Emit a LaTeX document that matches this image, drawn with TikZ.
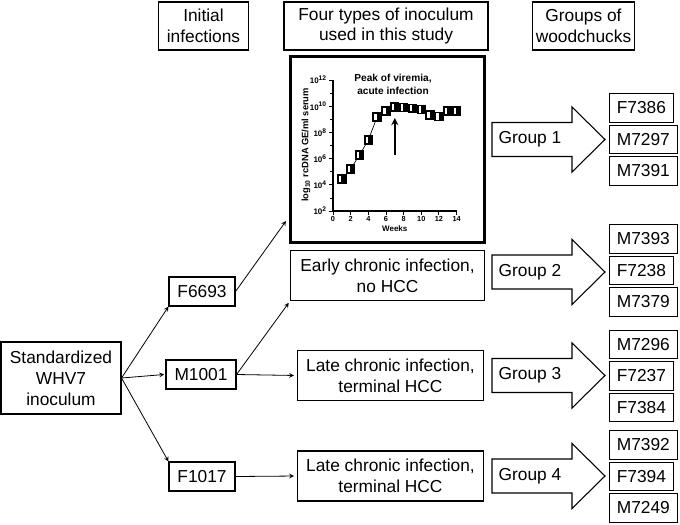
\documentclass[tikz,border=0pt]{standalone}
\usepackage{fontspec}
\setmainfont{Liberation Sans}

\tikzset{
  box/.style={draw, line width=0.8pt, align=center, inner sep=0pt,
    font=\fontsize{13}{15.6}\selectfont},
  hdr/.style={box, minimum height=36pt},
  chuck/.style={box, anchor=west, inner xsep=5.5pt, minimum height=21.4pt},
  grp/.style={draw, line width=0.8pt},
  ticklbl/.style={font=\bfseries\fontsize{5.5}{6}\selectfont, inner sep=1pt},
  datapt/.style={rectangle, fill=black, minimum size=7pt, inner sep=0pt,
    path picture={\fill[white] ([xshift=-2pt,yshift=-2.4pt]path picture bounding box.center) rectangle ++(1.7pt,4.8pt);}},
}

\begin{document}
\begin{tikzpicture}[>=stealth, x=0.75pt, y=-0.75pt]
    \useasboundingbox (0,0) rectangle (680,524);

    % column headers
    \node[hdr, minimum width=68pt] (hinit) at (203.5,26) {Initial\\infections};
    \node[hdr, minimum width=153pt] (htype) at (386,26) {Four types of inoculum\\used in this study};
    \node[hdr, minimum width=76pt] (hgrp) at (583.5,26) {Groups of\\woodchucks};

    % acute infection panel
    \node[draw, line width=2.2pt, minimum width=146pt, minimum height=139pt] (chart) at (387.5,149.5) {};
    \node[font=\bfseries\fontsize{7.6}{9.8}\selectfont, align=center] (peak) at (393,84.5) {Peak of viremia,\\acute infection};
    \node[rotate=90, font=\bfseries\fontsize{7}{8}\selectfont] (ylab) at (306,145) {log\textsubscript{10} rcDNA GE/ml serum};
    \begin{scope}[shift={(333,211)}, x=6.62pt, y=9.825pt]
        \draw[line width=0.9pt] (0,10) -- (0,0) -- (14,0);
        \foreach \k/\e in {0/2,2/4,4/6,6/8,8/10,10/12}
            \draw[line width=0.7pt] (0,\k) -- (-0.5,\k) node[left, ticklbl, font=\bfseries\fontsize{6}{7}\selectfont] {10\textsuperscript{\e}};
        \foreach \k in {1,3,...,9}
            \draw[line width=0.6pt] (0,\k) -- (-0.3,\k);
        \foreach \w in {0,2,...,14}
            \draw[line width=0.7pt] (\w,0) -- (\w,-0.3) node[below, ticklbl] {\w};
        \node[font=\bfseries\fontsize{6}{7}\selectfont] (weeks) at (7,-1.35) {Weeks};
        \draw[line width=0.5pt] plot coordinates {(1,2.44) (2,3.21) (3,4.27) (4,5.42) (5,7.18) (6,7.63) (7,7.94)
            (8,7.89) (9,7.84) (10,7.76) (11,7.33) (12,7.2) (13,7.63) (14,7.63)};
        \foreach \w/\v in {1/2.44,2/3.21,3/4.27,4/5.42,5/7.18,6/7.63,7/7.94,8/7.89,9/7.84,10/7.76,11/7.33,12/7.2,13/7.63,14/7.63}
            \node[datapt] (pt\w) at (\w,\v) {};
        \coordinate (peaklo) at (7,4.27);
        \coordinate (peakhi) at (7,7.1);
        \draw[->, line width=1.4pt] (peaklo) -- (peakhi);
    \end{scope}

    % inoculum and initial infections
    \node[box, minimum width=90pt, minimum height=54pt] (std) at (61,378) {Standardized\\WHV7\\inoculum};
    \node[box, minimum width=49.5pt, minimum height=21.75pt] (f6693) at (202,291.5) {F6693};
    \node[box, minimum width=52.5pt, minimum height=21.75pt] (m1001) at (201,374.5) {M1001};
    \node[box, minimum width=49.5pt, minimum height=21.75pt] (f1017) at (202,476.5) {F1017};
    \node[box, minimum width=145pt, minimum height=37pt] (early) at (387.5,275.5) {Early chronic infection,\\no HCC};
    \node[box, minimum width=140pt, minimum height=38pt] (late1) at (390.5,375.5) {Late chronic infection,\\terminal HCC};
    \node[box, minimum width=140pt, minimum height=37.5pt] (late2) at (390.5,476) {Late chronic infection,\\terminal HCC};

    \coordinate (chartin) at (286,221);
    \draw[->, line width=0.6pt] (std.east) -- (f6693.south west);
    \draw[->, line width=0.6pt] (std.east) -- ([xshift=-1pt]m1001.west);
    \draw[->, line width=0.6pt] (std.east) -- (f1017.north west);
    \draw[->, line width=0.6pt] (f6693.east) -- (chartin);
    \draw[->, line width=0.6pt, shorten >=2pt] (m1001.east) -- (early.south west);
    \draw[->, line width=0.6pt, shorten >=2pt] (m1001.east) -- (late1.west);
    \draw[->, line width=0.6pt, shorten >=2pt] (f1017.east) -- (late2.west);

    % group arrows
    \foreach \g/\yc in {1/139.5,2/272,3/375.5,4/476}{
        \draw[grp] (492,{\yc-17}) -- (572,{\yc-17}) -- (572,{\yc-32.5}) -- (605,\yc)
            -- (572,{\yc+32.5}) -- (572,{\yc+17}) -- (492,{\yc+17}) -- cycle;
        \node[font=\fontsize{13}{15.6}\selectfont] (grp\g) at (530,\yc) {Group \g};
    }

    % woodchucks
    \foreach \g/\yc/\a/\b/\c in {1/139.5/F7386/M7297/M7391, 2/270.5/M7393/F7238/M7379,
                                 3/376/M7296/F7237/F7384, 4/476.5/M7392/F7394/M7249}{
        \node[chuck] (w\g-1) at (609,{\yc-31.5}) {\a};
        \node[chuck] (w\g-2) at (609,\yc) {\b};
        \node[chuck] (w\g-3) at (609,{\yc+31.5}) {\c};
    }
\end{tikzpicture}
\end{document}
